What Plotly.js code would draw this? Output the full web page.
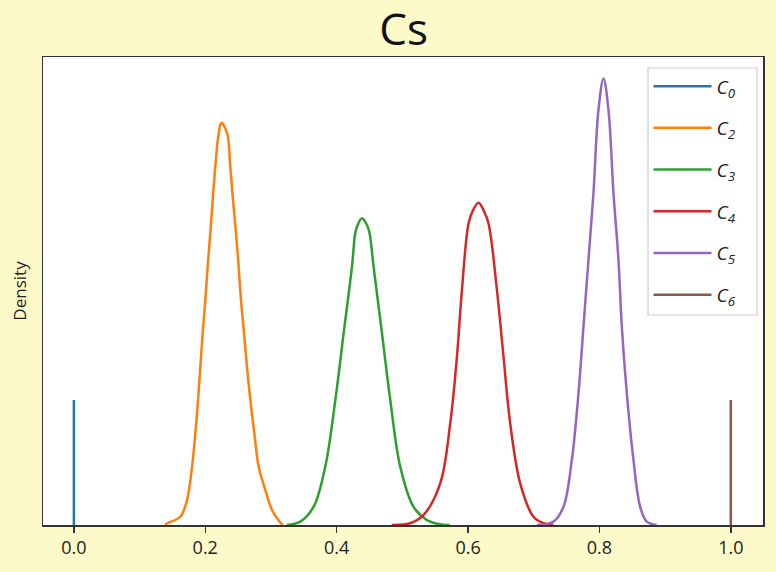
<!DOCTYPE html>
<html>
<head>
<meta charset="utf-8">
<script src="https://cdn.plot.ly/plotly-3.0.1.min.js"></script>
<style>html,body{margin:0;padding:0;background:#fdf9c9;}#chart{width:776px;height:572px;}</style>
</head>
<body>
<div id="chart"></div>
<script>
// Series names (legend labels)
const seriesNames = ["C<sub>0</sub>", "C<sub>2</sub>", "C<sub>3</sub>", "C<sub>4</sub>", "C<sub>5</sub>", "C<sub>6</sub>"];
const seriesColors = ["#1f77b4", "#ff7f0e", "#2ca02c", "#d62728", "#9467bd", "#8c564b"];

// C0: degenerate at 0
const c0X = [0, 0];
const c0Y = [0, 5.61];

// C2 density
const c2X = [0.139, 0.1417, 0.162, 0.1722, 0.1799, 0.1849, 0.189, 0.1925, 0.196, 0.2001, 0.2036, 0.2077, 0.2113, 0.2153, 0.2204, 0.2245, 0.2333, 0.2381, 0.2422, 0.2468, 0.2508, 0.2544, 0.259, 0.2635, 0.2686, 0.2747, 0.2812, 0.2914, 0.3016, 0.3117, 0.318];
const c2Y = [0, 0.07, 0.37, 1.12, 2.62, 4.11, 5.61, 7.10, 8.60, 10.09, 11.59, 13.09, 14.58, 16.08, 17.57, 18.05, 17.57, 16.08, 14.58, 13.09, 11.59, 10.09, 8.60, 7.10, 5.61, 4.11, 2.62, 1.57, 0.67, 0.2, 0];

// C3 density
const c3X = [0.324, 0.3447, 0.3649, 0.3827, 0.398, 0.4106, 0.4233, 0.4283, 0.4319, 0.4385, 0.4461, 0.4501, 0.4562, 0.469, 0.4816, 0.4968, 0.517, 0.5374, 0.555, 0.572];
const c3Y = [0, 0.15, 0.82, 2.62, 5.61, 8.6, 11.59, 13.09, 13.46, 13.76, 13.46, 13.09, 11.59, 8.6, 5.61, 2.62, 0.82, 0.22, 0.05, 0];

// C4 density
const c4X = [0.484, 0.512, 0.5323, 0.5577, 0.5729, 0.5831, 0.5907, 0.6008, 0.608, 0.616, 0.624, 0.6312, 0.644, 0.654, 0.6642, 0.6794, 0.6996, 0.715, 0.730];
const c4Y = [0, 0.08, 0.45, 1.87, 4.56, 7.55, 10.54, 13.53, 14.15, 14.46, 14.1, 13.53, 10.54, 7.55, 4.56, 1.87, 0.37, 0.08, 0];

// C5 density
const c5X = [0.705, 0.730, 0.7453, 0.758, 0.7681, 0.7757, 0.7833, 0.7909, 0.7985, 0.8062, 0.8138, 0.8214, 0.829, 0.8341, 0.8417, 0.8518, 0.862, 0.872, 0.887];
const c5Y = [0, 0.15, 0.82, 2.92, 5.91, 8.9, 11.89, 14.88, 18.62, 20.04, 18.62, 14.88, 11.89, 8.9, 5.91, 2.92, 0.82, 0.15, 0];

// C6: degenerate at 1
const c6X = [1, 1];
const c6Y = [0, 5.61];

// x-axis ticks
const tickVals = [0.0, 0.2, 0.4, 0.6, 0.8, 1.0];
const tickText = ["0.0", "0.2", "0.4", "0.6", "0.8", "1.0"];

const xs = [c0X, c2X, c3X, c4X, c5X, c6X];
const ys = [c0Y, c2Y, c3Y, c4Y, c5Y, c6Y];

const traces = xs.map((x, i) => ({
  type: "scatter",
  mode: "lines",
  x: x,
  y: ys[i],
  name: "<i>" + seriesNames[i] + "</i>",
  legendgroup: "g" + i,
  line: {color: seriesColors[i], width: 2.5, shape: (x.length > 2 ? "spline" : "linear"), smoothing: 1},
  hoverinfo: "skip"
}));

const layout = {
  width: 776,
  height: 572,
  paper_bgcolor: "#fdf9c9",
  plot_bgcolor: "#ffffff",
  margin: {l: 43, r: 13, t: 57, b: 47},
  title: {text: "Cs", x: 0.52, xanchor: "center", y: 0.948, yanchor: "middle",
          font: {family: "Open Sans, DejaVu Sans, sans-serif", size: 44, color: "#111"}},
  font: {family: "Open Sans, DejaVu Sans, sans-serif", color: "#222"},
  xaxis: {
    range: [-0.047, 1.049],
    tickvals: tickVals,
    ticktext: tickText,
    ticks: "outside",
    ticklen: 6,
    tickwidth: 1.5,
    tickcolor: "#333",
    tickfont: {size: 18, color: "#222"},
    showgrid: false,
    zeroline: false,
    showline: true,
    linecolor: "#333",
    linewidth: 1.5,
    mirror: true
  },
  yaxis: {
    range: [0, 21],
    showticklabels: false,
    ticks: "",
    showgrid: false,
    zeroline: false,
    showline: true,
    linecolor: "#333",
    linewidth: 1.5,
    mirror: true,
    title: {text: "Density", standoff: 10, font: {size: 17, color: "#222"}}
  },
  // legend frame (matplotlib-style box)
  shapes: [{
    type: "rect", xref: "paper", yref: "paper", layer: "below",
    x0: 0.8403, x1: 0.9917, y0: 0.4487, y1: 0.9765,
    fillcolor: "#ffffff", line: {color: "#cccccc", width: 1.2}
  }],
  showlegend: true,
  legend: {
    x: 0.841, y: 0.978, xanchor: "left", yanchor: "top",
    bgcolor: "rgba(0,0,0,0)",
    borderwidth: 0,
    font: {size: 19, color: "#222"},
    traceorder: "grouped",
    tracegroupgap: 14,
    itemwidth: 58,
    entrywidth: 95,
    entrywidthmode: "pixels"
  }
};

Plotly.newPlot("chart", traces, layout, {displayModeBar: false, staticPlot: true});
</script>
</body>
</html>
